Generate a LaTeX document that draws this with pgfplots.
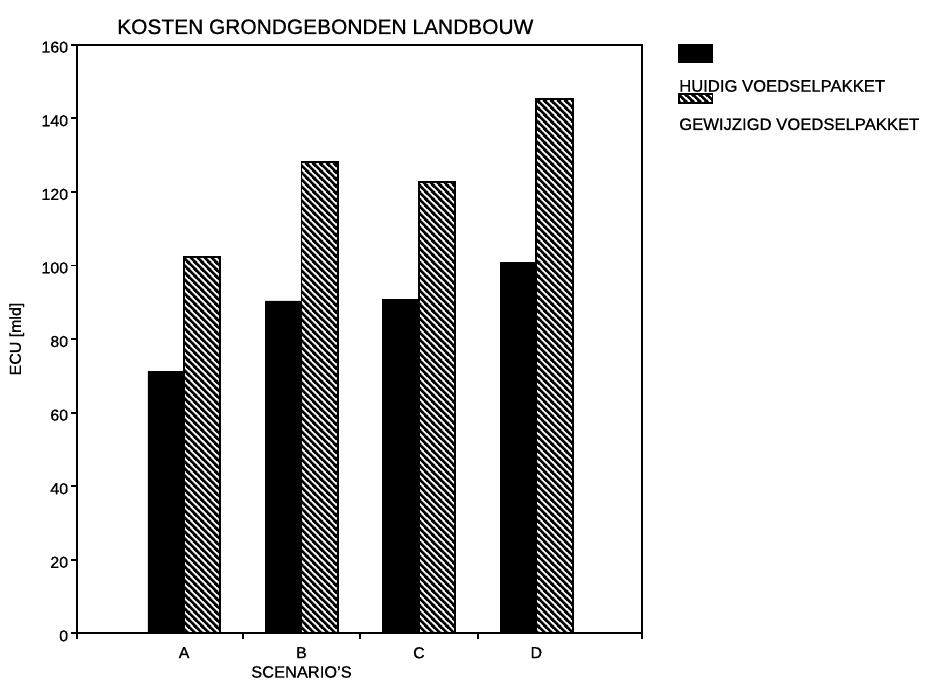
\documentclass[border=0pt]{standalone}
\usepackage{pgfplots}
\pgfplotsset{compat=1.18}
\usepackage{fontspec}
\setmainfont{Liberation Sans}[BoldFont={Liberation Sans}, BoldFeatures={FakeBold=0.8}]
\usetikzlibrary{patterns}

\pgfdeclarepatternformonly{hatchnw}{\pgfqpoint{0bp}{0bp}}{\pgfqpoint{7bp}{7bp}}{\pgfqpoint{7bp}{7bp}}{%
  \pgfsetlinewidth{2.7bp}%
  \pgfpathmoveto{\pgfqpoint{-7bp}{7bp}}\pgfpathlineto{\pgfqpoint{7bp}{-7bp}}%
  \pgfpathmoveto{\pgfqpoint{-1bp}{8bp}}\pgfpathlineto{\pgfqpoint{8bp}{-1bp}}%
  \pgfpathmoveto{\pgfqpoint{0bp}{14bp}}\pgfpathlineto{\pgfqpoint{14bp}{0bp}}%
  \pgfusepath{stroke}}
\tikzset{hatch/.style={pattern=hatchnw, pattern color=black}}

\begin{document}
\begin{tikzpicture}[x=1bp,y=1bp]
\useasboundingbox (0,0) rectangle (934,682);
\begin{axis}[
  at={(77.3bp,48.6bp)}, anchor=south west,
  scale only axis, width=564.7bp, height=588.7bp,
  xmin=-0.909, xmax=3.9, ymin=0, ymax=160,
  ybar,
  axis line style={line width=1.8bp},
  tick style={line width=1.8bp, black},
  tick pos=left, tick align=outside,
  major tick length=6bp,
  /pgf/number format/assume math mode=true,
  ytick={0,20,...,160},
  yticklabel style={font=\fontsize{16}{18}\selectfont\bfseries, inner sep=0pt, xshift=-3bp, yshift=-2.5bp},
  xtick={-0.909,0.5,1.5,2.5,3.9},
  xticklabels={},
  extra x ticks={0,1,2,3},
  extra x tick labels={A,B,C,D},
  extra x tick style={major tick length=0pt, tick label style={font=\fontsize{16}{18}\selectfont\bfseries, inner sep=0pt, yshift=-13.6bp}},
  xlabel={SCENARIO'S},
  xlabel style={at={(axis cs:1,0)}, anchor=center, yshift=-38.6bp, font=\fontsize{16.5}{18}\selectfont\bfseries},
  ylabel={ECU [mld]},
  ylabel style={at={(axis description cs:0,0.5)}, anchor=center, yshift=60.6bp, font=\fontsize{16}{18}\selectfont\bfseries},
  clip=false,
]
\addplot[fill=black, draw=black, line width=0.5bp, bar width=0.309, bar shift=-0.1545]
  coordinates {(0,71.2) (1,90.4) (2,90.8) (3,100.9)};
\addplot[hatch, draw=black, line width=1.8bp, bar width=0.309, bar shift=0.1545]
  coordinates {(0,102.3) (1,128.2) (2,122.6) (3,145.3)};
\end{axis}
% title
\node[anchor=base west, inner sep=0pt, font=\fontsize{21}{24}\selectfont\bfseries] at (117,648) {KOSTEN GRONDGEBONDEN LANDBOUW};
% legend
\fill[black] (678,619) rectangle (713,638);
\node[anchor=base west, inner sep=0pt, font=\fontsize{16.7}{19}\selectfont\bfseries] at (679,590.3) {HUIDIG VOEDSELPAKKET};
\draw[hatch, draw=black, line width=1.5bp] (678.75,578.75) rectangle (712.25,588.2);
\node[anchor=base west, inner sep=0pt, font=\fontsize{16.7}{19}\selectfont\bfseries] at (679,552) {GEWIJZIGD VOEDSELPAKKET};
\end{tikzpicture}
\end{document}
